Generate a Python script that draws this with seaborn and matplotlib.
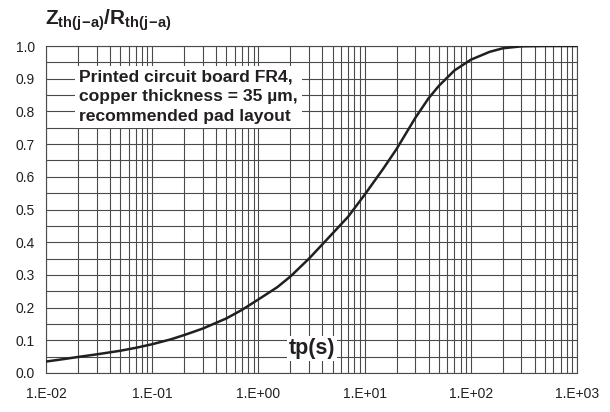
import numpy as np
import pandas as pd
import matplotlib
matplotlib.use("Agg")
import matplotlib.pyplot as plt
import matplotlib.ticker as mticker
import seaborn as sns

# Data
tp = [0.01, 0.015, 0.02, 0.03, 0.05, 0.07, 0.1, 0.15, 0.2, 0.3, 0.5, 0.7, 1.0, 1.5,
      2.0, 3.0, 5.0, 7.0, 10.0, 15.0, 20.0, 30.0, 40.0, 50.0, 70.0, 100.0, 150.0,
      200.0, 300.0, 500.0, 1000.0]
zth = [0.035, 0.043, 0.049, 0.057, 0.068, 0.077, 0.088, 0.103, 0.116, 0.136, 0.167,
       0.193, 0.225, 0.262, 0.295, 0.35, 0.427, 0.478, 0.545, 0.625, 0.685, 0.78,
       0.84, 0.878, 0.925, 0.958, 0.982, 0.993, 0.999, 1.0, 1.0]
x_ticks = [1e-2, 1e-1, 1e0, 1e1, 1e2, 1e3]
x_tick_labels = ["1.E-02", "1.E-01", "1.E+00", "1.E+01", "1.E+02", "1.E+03"]
y_ticks = [0.0, 0.1, 0.2, 0.3, 0.4, 0.5, 0.6, 0.7, 0.8, 0.9, 1.0]

df = pd.DataFrame({"tp": tp, "zth": zth})

sns.set_style("white")
plt.rcParams["font.family"] = ["Liberation Sans", "DejaVu Sans"]
plt.rcParams["mathtext.fontset"] = "custom"
plt.rcParams["mathtext.bf"] = "Liberation Sans:bold"
plt.rcParams["mathtext.rm"] = "Liberation Sans"

fig = plt.figure(figsize=(6.1, 4.12), dpi=100)
ax = fig.add_axes([46/610, 39/412, 531/610, 327/412])

grid_c = "#4a4a4a"
# horizontal grid every 0.05
for yv in np.arange(0, 1.0001, 0.05):
    ax.axhline(yv, color=grid_c, lw=0.8, zorder=1)
# vertical grid: decades and minors
for d in range(-2, 3):
    for m in range(1, 10):
        ax.axvline(m * 10.0**d, color=grid_c, lw=0.8, zorder=1)
ax.axvline(1e3, color=grid_c, lw=0.8, zorder=1)

sns.lineplot(data=df, x="tp", y="zth", ax=ax, color="#231f20", lw=1.8, zorder=3)

ax.set_xscale("log")
ax.set_xlim(1e-2, 1e3)
ax.set_ylim(0, 1.0)
ax.set_xticks(x_ticks)
ax.set_xticklabels(x_tick_labels)
ax.xaxis.set_minor_locator(mticker.NullLocator())
ax.set_yticks(y_ticks)
ax.set_yticklabels([f"{v:.1f}" for v in y_ticks])
ax.tick_params(axis="both", length=0, labelsize=10, colors="#231f20")
ax.tick_params(axis="x", pad=10)
ax.tick_params(axis="y", pad=8)
ax.set_xlabel("")
ax.set_ylabel("")
for s in ax.spines.values():
    s.set_color(grid_c)
    s.set_linewidth(0.8)

ax.text(0.0205, 0.845,
        "Printed circuit board FR4,\ncopper thickness = 35 µm,\nrecommended pad layout",
        fontsize=12.6, fontweight="bold", color="#231f20", linespacing=1.36,
        va="center", ha="left", zorder=4,
        bbox=dict(facecolor="white", edgecolor="none", pad=3))

ax.text(3.2, 0.075, "tp(s)", fontsize=15.5, fontweight="bold", color="#231f20",
        ha="center", va="center", zorder=4,
        bbox=dict(facecolor="white", edgecolor="none", pad=1.5))

fig.text(45/610, 1 - 20/412,
         r"$\mathbf{Z}_{\mathbf{th(j\!-\!a)}}\mathbf{/R}_{\mathbf{th(j\!-\!a)}}$",
         fontsize=15, color="#231f20", ha="left", va="center")

fig.savefig("out.png", dpi=100, facecolor="white")
